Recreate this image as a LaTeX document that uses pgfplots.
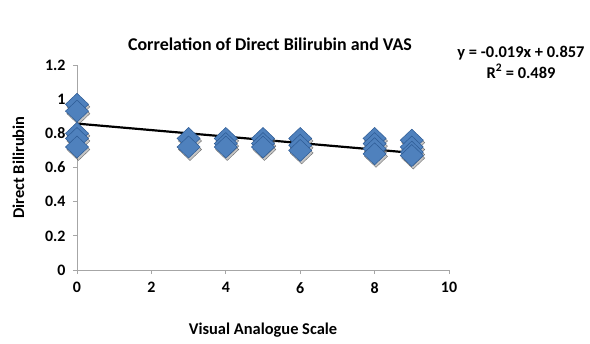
\documentclass[border=0pt]{standalone}
\usepackage{pgfplots}
\pgfplotsset{compat=1.18}
\usepackage{fontspec}
\setmainfont{Carlito}
\definecolor{mk}{HTML}{4F81BD}
\definecolor{mkd}{HTML}{2C5A94}
\definecolor{ax}{HTML}{A6A6A6}
\begin{document}
\begin{tikzpicture}[x=1bp,y=1bp]
\path[use as bounding box] (-77,-73) rectangle (513,270);
\begin{axis}[
  at={(0,0)}, anchor=south west,
  scale only axis, width=372bp, height=205bp,
  xmin=0, xmax=10, ymin=0, ymax=1.2,
  xtick={0,2,...,10}, ytick={0,0.2,...,1.2},
  axis lines*=left,
  axis line style={ax, line width=0.8pt, -},
  tick style={ax, line width=0.8pt},
  tick align=outside, major tick length=4bp,
  /pgf/number format/assume math mode=true,
  /pgf/number format/fixed,
  ticklabel style={font=\bfseries\fontsize{16}{18}\selectfont, black},
  xticklabel style={yshift=-5bp},
  yticklabel style={xshift=-4bp},
  xlabel={Visual Analogue Scale},
  ylabel={Direct Bilirubin},
  label style={font=\bfseries\fontsize{16.5}{19}\selectfont},
  xlabel style={yshift=-22bp},
  ylabel style={yshift=14bp},
  clip=false,
]
% shadow
\addplot[only marks, mark=diamond*, mark size=11bp, mark options={xscale=1.4, fill=black!45, draw=none, opacity=0.5, yshift=-2.5bp, xshift=1bp}] coordinates {
(0,0.97)(0,0.93)(0,0.80)(0,0.77)(0,0.72)
(3,0.77)(3,0.72)
(4,0.77)(4,0.74)(4,0.72)
(5,0.77)(5,0.74)(5,0.72)
(6,0.77)(6,0.73)(6,0.70)
(8,0.77)(8,0.74)(8,0.71)(8,0.68)
(9,0.76)(9,0.72)(9,0.69)(9,0.67)
};
\addplot[only marks, mark=diamond*, mark size=11bp, mark options={xscale=1.4, fill=mk, draw=mkd, line width=0.5pt}] coordinates {
(0,0.97)(0,0.93)(0,0.80)(0,0.77)(0,0.72)
(3,0.77)(3,0.72)
(4,0.77)(4,0.74)(4,0.72)
(5,0.77)(5,0.74)(5,0.72)
(6,0.77)(6,0.73)(6,0.70)
(8,0.77)(8,0.74)(8,0.71)(8,0.68)
(9,0.76)(9,0.72)(9,0.69)(9,0.67)
};
\addplot[black, line width=2.2pt, no marks] coordinates {(0,0.857)(9,0.686)};
\end{axis}
\node[font=\bfseries\fontsize{18}{20}\selectfont] at (193,226) {Correlation of Direct Bilirubin and VAS};
\node[font=\bfseries\fontsize{16.5}{21}\selectfont, align=center] at (444,208) {y = -0.019x + 0.857\\R\textsuperscript{2} = 0.489};
\end{tikzpicture}
\end{document}
